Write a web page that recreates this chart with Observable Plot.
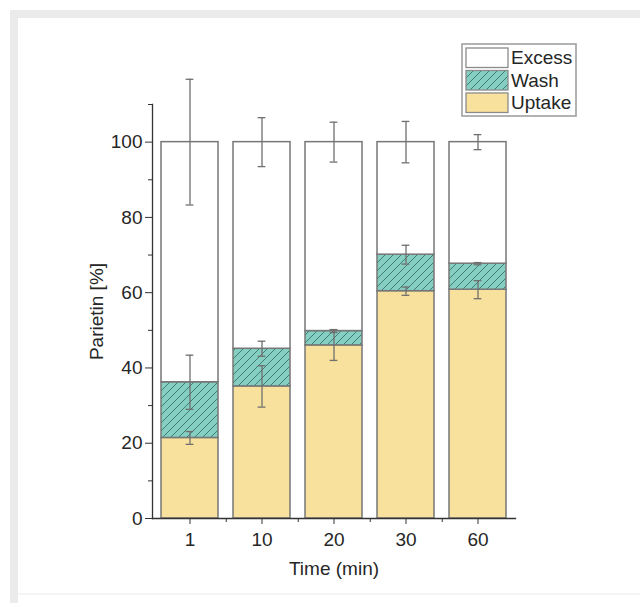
<!DOCTYPE html>
<html><head><meta charset="utf-8">
<script src="https://cdn.jsdelivr.net/npm/d3@7"></script>
<script src="https://cdn.jsdelivr.net/npm/@observablehq/plot@0.6"></script>
<style>
html,body{margin:0;padding:0;background:#fff;}
#wrap{position:relative;width:640px;height:603px;overflow:hidden;font-family:"Liberation Sans",Arial,sans-serif;}
#frame{position:absolute;left:10px;top:10px;width:700px;height:700px;border-left:8px solid #ebebeb;border-top:8px solid #ebebeb;box-sizing:border-box;}
#bline{position:absolute;left:18px;top:593px;width:640px;height:2px;background:#f5f5f5;}
#chart{position:absolute;left:0;top:0;}
#legend{position:absolute;left:461px;top:43px;}
</style></head>
<body><div id="wrap"><div id="frame"></div><div id="bline"></div><div id="chart"></div><div id="legend"></div></div>
<script>
const times = ["1","10","20","30","60"];
const uptake = [21.4, 35.1, 46.0, 60.4, 60.8];
const wash = [14.8, 10.0, 3.8, 9.7, 6.9];
const excess = [63.8, 54.9, 50.2, 29.9, 32.3];
const uptakeErr = [1.7, 5.5, 4.0, 1.1, 2.4];
const washErr = [7.2, 2.0, 0.4, 2.5, 0.3];
const excessErr = [16.7, 6.5, 5.3, 5.5, 2.0];
const yTicks = [0, 20, 40, 60, 80, 100];
const yMinorTicks = [10, 30, 50, 70, 90, 110];
const legendNames = ["Excess", "Wash", "Uptake"];
const fills = {Uptake: "#f8e19c", Wash: "url(#hatch)", Excess: "#ffffff"};
const legendFills = {Uptake: "#f8e19c", Wash: "url(#hatch2)", Excess: "#ffffff"};

const segs = [], errs = [];
times.forEach((t, i) => {
  const a = uptake[i], b = a + wash[i], c = b + excess[i];
  segs.push({time: t, series: "Uptake", y1: 0, y2: a});
  segs.push({time: t, series: "Wash", y1: a, y2: b});
  segs.push({time: t, series: "Excess", y1: b, y2: c});
  errs.push({time: t, lo: a - uptakeErr[i], hi: a + uptakeErr[i]});
  errs.push({time: t, lo: b - washErr[i], hi: b + washErr[i]});
  errs.push({time: t, lo: c - excessErr[i], hi: c + excessErr[i]});
});

const W = 640, H = 603, ML = 152, MR = 125, MT = 104, MB = 85;
const PI = 0.21, PO = 0.11;
const step = (W - ML - MR) / (times.length - PI + 2 * PO);
const bw = step * (1 - PI);
const capInset = bw / 2 - 4;

function patternDefs(id) {
  return `<pattern id="${id}" patternUnits="userSpaceOnUse" width="8" height="8">
    <rect width="8" height="8" fill="#84cfc1"></rect>
    <path d="M-2,2 L2,-2 M0,8 L8,0 M6,10 L10,6" stroke="#3f7d73" stroke-width="1"></path>
  </pattern>`;
}

const errColor = "#6f6f6f";
const txt = "#262626";
const chart = Plot.plot({
  width: W, height: H,
  marginLeft: ML, marginRight: MR, marginTop: MT, marginBottom: MB,
  style: {fontFamily: '"Liberation Sans", Arial, sans-serif', fontSize: "19px", color: txt, background: "transparent"},
  x: {type: "band", domain: times, paddingInner: PI, paddingOuter: PO},
  y: {domain: [0, 110]},
  color: {type: "identity"},
  marks: [
    () => {
      const g = d3.create("svg:defs");
      g.html(patternDefs("hatch"));
      return g.node();
    },
    Plot.barY(segs, {x: "time", y1: "y1", y2: "y2", fill: d => fills[d.series], stroke: "#777", strokeWidth: 1.5}),
    Plot.ruleX(errs, {x: "time", y1: "lo", y2: "hi", stroke: errColor, strokeWidth: 1.3}),
    Plot.tickY(errs, {x: "time", y: "lo", stroke: errColor, strokeWidth: 1.3, insetLeft: capInset, insetRight: capInset}),
    Plot.tickY(errs, {x: "time", y: "hi", stroke: errColor, strokeWidth: 1.3, insetLeft: capInset, insetRight: capInset}),
    Plot.axisY({ticks: yTicks, tickSize: 7, tickPadding: 3, stroke: "#333", fill: txt, label: "Parietin [%]", labelAnchor: "center", labelArrow: "none", labelOffset: 63}),
    Plot.axisY({ticks: yMinorTicks, tickSize: 4, stroke: "#333", tickFormat: () => "", label: null}),
    Plot.axisX({tickSize: 6, tickPadding: 8, stroke: "#333", fill: txt, label: "Time (min)", labelAnchor: "center", labelArrow: "none", labelOffset: 56}),
    Plot.axisX({ticks: times.slice(0, -1), tickSize: 4, dx: step / 2, stroke: "#333", tickFormat: () => "", label: null}),
    Plot.frame({anchor: "left", stroke: "#333", strokeWidth: 1.3}),
    Plot.frame({anchor: "bottom", stroke: "#333", strokeWidth: 1.3})
  ]
});
document.getElementById("chart").append(chart);

// Legend (HTML overlay)
const lg = d3.select("#legend").append("svg").attr("width", 118).attr("height", 76)
  .style("font-family", '"Liberation Sans", Arial, sans-serif');
lg.append("defs").html(patternDefs("hatch2"));
lg.append("rect").attr("x", 1).attr("y", 1).attr("width", 114).attr("height", 72)
  .attr("fill", "#fff").attr("stroke", "#999").attr("stroke-width", 1.5);
legendNames.forEach((name, i) => {
  const y = 5 + i * 22.5;
  lg.append("rect").attr("x", 5).attr("y", y).attr("width", 42).attr("height", 19.5)
    .attr("fill", legendFills[name]).attr("stroke", "#8a8a8a").attr("stroke-width", 1.3);
  lg.append("text").attr("x", 50).attr("y", y + 16).attr("font-size", 19).attr("fill", txt).text(name);
});
</script>
</body></html>
